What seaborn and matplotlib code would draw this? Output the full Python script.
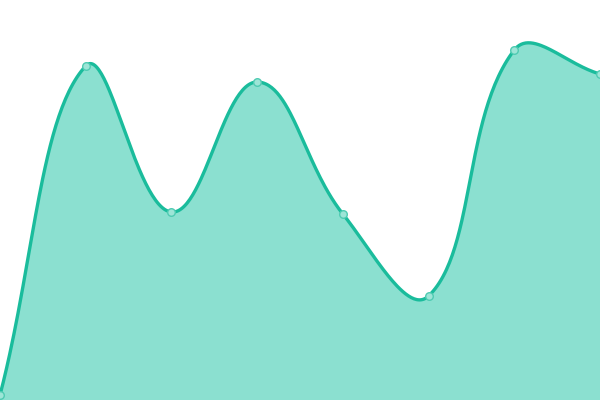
import numpy as np
import seaborn as sns
import matplotlib.pyplot as plt

# values (height above the bottom edge, in pixels)
idx = [0, 1, 2, 3, 4, 5, 6, 7]
values = [5, 334, 188, 318, 186, 104, 350, 326]

line_col = "#1abc9c"
fill_col = "#8be0d0"

W, H = 600, 400
ymax = 400
sx = W / (len(idx) - 1)
sy = H / ymax

# chart.js style spline (tension 0.4), done in pixel space
pts = np.array([[i * sx, v * sy] for i, v in zip(idx, values)], dtype=float)
t = 0.4
n = len(pts)
cprev = np.zeros_like(pts)
cnext = np.zeros_like(pts)
for i in range(n):
    p = pts[max(i - 1, 0)]
    c = pts[i]
    nx = pts[min(i + 1, n - 1)]
    d01 = np.hypot(*(c - p))
    d12 = np.hypot(*(nx - c))
    tot = d01 + d12
    s01 = d01 / tot if tot else 0
    s12 = d12 / tot if tot else 0
    cprev[i] = c - t * s01 * (nx - p)
    cnext[i] = c + t * s12 * (nx - p)
cprev[:, 0] = np.clip(cprev[:, 0], 0, W)
cprev[:, 1] = np.clip(cprev[:, 1], 0, H)
cnext[:, 0] = np.clip(cnext[:, 0], 0, W)
cnext[:, 1] = np.clip(cnext[:, 1], 0, H)

xs, ys = [], []
u = np.linspace(0, 1, 60)
for i in range(n - 1):
    p0, p1, p2, p3 = pts[i], cnext[i], cprev[i + 1], pts[i + 1]
    b = ((1 - u) ** 3)[:, None] * p0 + (3 * (1 - u) ** 2 * u)[:, None] * p1 \
        + (3 * (1 - u) * u ** 2)[:, None] * p2 + (u ** 3)[:, None] * p3
    xs.extend(b[:, 0] / sx)
    ys.extend(b[:, 1] / sy)
xs = np.array(xs)
ys = np.array(ys)

sns.set_style("white")
fig = plt.figure(figsize=(6, 4), dpi=100)
ax = fig.add_axes([0, 0, 1, 1])

ax.fill_between(xs, 0, ys, color=fill_col, lw=0)
sns.lineplot(x=xs, y=ys, sort=False, color=line_col, lw=2.4, ax=ax)
sns.scatterplot(x=idx, y=values, s=30, color="#9de5d7", edgecolor="#4fcbb2",
                linewidth=1, zorder=5, ax=ax)

ax.set_xlim(0, len(idx) - 1)
ax.set_ylim(0, ymax)
ax.axis("off")

plt.savefig("out.png", dpi=100)
